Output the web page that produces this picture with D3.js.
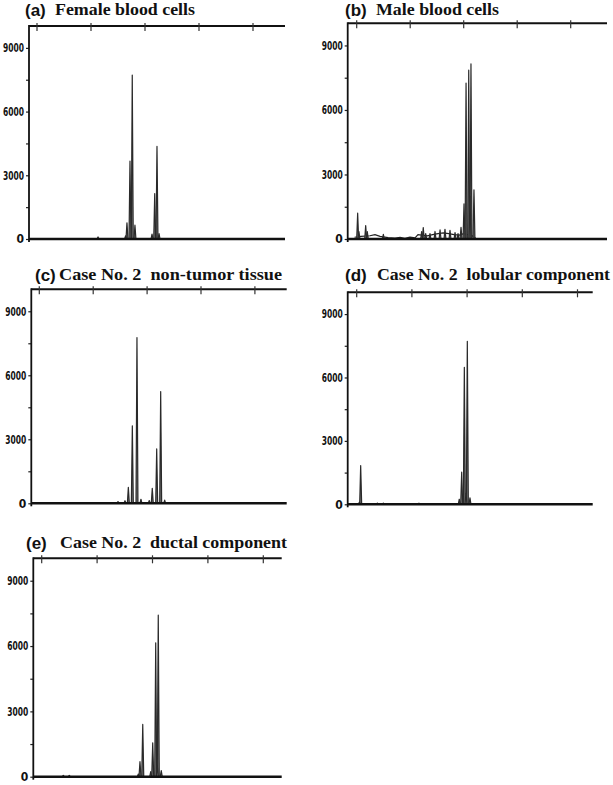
<!DOCTYPE html>
<html>
<head>
<meta charset="utf-8">
<script src="https://cdn.jsdelivr.net/npm/d3@7"></script>
<style>
  body { margin: 0; background: #fff; }
</style>
</head>
<body>
<div id="visContainer"></div>
<script>
// panel letters and titles
const letters = ["(a)", "(b)", "(c)", "(d)", "(e)"];
const titles = [
  "Female blood cells",
  "Male blood cells",
  "Case No. 2  non-tumor tissue",
  "Case No. 2  lobular component",
  "Case No. 2  ductal component"
];

// size ticks (top axis) and RFU ticks (left axis)
const sizeTicks = [100, 150, 200, 250, 300];
const rfuTicks = [0, 1500, 3000, 4500, 6000, 7500, 9000];
const rfuLabels = [0, 3000, 6000, 9000];

// peaks: [size, height]
const peaksA = [[156.5, 100], [182.0, 150], [183.3, 760], [186.1, 3670], [188.2, 7720], [190.7, 650],
  [206.5, 230], [209.0, 2140], [211.1, 4360], [213.0, 250]];
const peaksB = [[100.9, 1200], [102.1, 340], [108.4, 620], [109.9, 340], [124.9, 220],
  [160.7, 340], [162.2, 530], [164.5, 250], [168.5, 250], [173.2, 350], [177.9, 420],
  [182.5, 450], [187.2, 400], [191.9, 300], [194.7, 250], [197.5, 540],
  [200.3, 1640], [202.2, 7250], [204.7, 7850], [205.9, 1980], [206.8, 8140], [209.6, 2290]];
const noiseB = [[98, 80], [104, 120], [112.4, 150], [117.1, 200], [121.8, 120], [129.3, 60],
  [135.8, 40], [140.5, 80], [145.1, 30], [149.8, 90], [154.5, 50], [157.3, 200],
  [166, 150], [171, 200], [176, 250], [181, 280], [186, 250], [191, 200], [196, 180],
  [200, 250], [208, 150], [212, 0]];
const peaksC = [[173.0, 80], [179.5, 120], [182.6, 750], [186.3, 3630], [190.6, 7770], [194.3, 190],
  [202.0, 130], [204.8, 700], [208.9, 2550], [212.6, 5240], [216.3, 150]];
const peaksD = [[102.4, 100], [103.6, 1830], [118.7, 60], [124.1, 60], [156.4, 50],
  [192.9, 240], [195.1, 1520], [197.5, 6480], [199.0, 520], [200.2, 7710], [202.6, 300]];
const peaksE = [[119.5, 60], [124.9, 60], [187.2, 120], [188.7, 690], [191.2, 2400],
  [198.4, 230], [200.2, 1560], [202.9, 6150], [204.3, 540], [205.2, 7420], [207.9, 280]];

const allPeaks = [peaksA, peaksB, peaksC, peaksD, peaksE];
const allNoise = [[], noiseB, [], [], []];

// panel frames in pixels
const frames = [
  {left: 29, right: 285, top: 26, bottom: 239, tick0: 37, step: 54, tx: 25, tx2: 55, tw: 140, ty: 15},
  {left: 347.7, right: 607, top: 23.3, bottom: 239, tick0: 356.7, step: 53.5, tx: 345, tx2: 376, tw: 123, ty: 15},
  {left: 31.3, right: 286.7, top: 289.3, bottom: 503.3, tick0: 39.3, step: 53.9, tx: 35, tx2: 59, tw: 223, ty: 280},
  {left: 347.7, right: 592.7, top: 292.3, bottom: 504.3, tick0: 356.7, step: 55.2, tx: 345, tx2: 377, tw: 233, ty: 280},
  {left: 33.3, right: 281.7, top: 558.3, bottom: 776.7, tick0: 41.7, step: 55.4, tx: 26, tx2: 60, tw: 227, ty: 548}
];

const width = 613;
const height = 785;
const yTop = 10030;

const svg = d3.create("svg")
  .attr("width", width)
  .attr("height", height)
  .style("background", "#fff");
document.querySelector("#visContainer").append(svg.node());

frames.forEach((f, i) => {
  const lo = 100 - (f.tick0 - f.left) / f.step * 50;
  const hi = 100 + (f.right - f.tick0) / f.step * 50;
  const x = d3.scaleLinear().domain([lo, hi]).range([f.left, f.right]);
  const y = d3.scaleLinear().domain([0, yTop]).range([f.bottom, f.top]);
  const g = svg.append("g");

  // titles
  g.append("text")
    .attr("x", f.tx).attr("y", f.ty + 1)
    .attr("font-family", "Liberation Sans, Arial, sans-serif")
    .attr("font-weight", "bold")
    .attr("font-size", 17)
    .attr("fill", "#111")
    .text(letters[i]);
  g.append("text")
    .attr("x", f.tx2).attr("y", f.ty)
    .attr("font-family", "Liberation Serif, Times New Roman, serif")
    .attr("font-weight", "bold")
    .attr("font-size", 16)
    .attr("fill", "#111")
    .attr("textLength", f.tw)
    .attr("lengthAdjust", "spacingAndGlyphs")
    .style("white-space", "pre")
    .text(titles[i]);

  // noise trace
  if (allNoise[i].length) {
    g.append("path")
      .datum(allNoise[i])
      .attr("fill", "none")
      .attr("stroke", "#222")
      .attr("stroke-width", 1.2)
      .attr("d", d3.line().x(d => x(d[0])).y(d => y(d[1])));
  }

  // peaks
  const w = 0.9;
  g.selectAll("path.peak")
    .data(allPeaks[i].slice().sort((a, b) => b[1] - a[1]))
    .join("path")
    .attr("class", "peak")
    .attr("fill", "#777")
    .attr("stroke", "#2a2a2a")
    .attr("stroke-width", 1.2)
    .attr("stroke-linejoin", "round")
    .attr("d", d => `M${x(d[0] - w)},${y(0)}L${x(d[0])},${y(d[1])}L${x(d[0] + w)},${y(0)}`);

  // baseline
  g.append("line")
    .attr("x1", f.left).attr("x2", f.right)
    .attr("y1", y(0)).attr("y2", y(0))
    .attr("stroke", "#111").attr("stroke-width", 2.6);

  // top axis line with size ticks
  g.append("line")
    .attr("x1", f.left).attr("x2", f.right)
    .attr("y1", f.top).attr("y2", f.top)
    .attr("stroke", "#111").attr("stroke-width", 2);
  g.selectAll("line.sz")
    .data(sizeTicks)
    .join("line")
    .attr("class", "sz")
    .attr("x1", d => x(d)).attr("x2", d => x(d))
    .attr("y1", f.top - 3).attr("y2", f.top + 5)
    .attr("stroke", "#333").attr("stroke-width", 1.2);

  // left axis
  const yAxis = d3.axisLeft(y)
    .tickValues(rfuTicks)
    .tickSize(3)
    .tickPadding(2)
    .tickFormat(d => rfuLabels.includes(d) ? d : "");
  const ax = g.append("g")
    .attr("transform", `translate(${f.left},0)`)
    .call(yAxis);
  ax.select(".domain").remove();
  ax.selectAll(".tick line").attr("stroke", "#222").attr("stroke-width", 1.2);
  ax.selectAll(".tick text")
    .attr("font-family", "Liberation Sans Narrow, DejaVu Sans Condensed, Arial Narrow, sans-serif")
    .attr("font-size", 12)
    .attr("font-weight", "bold")
    .attr("fill", "#111")
    .each(function(d) {
      if (d > 0) d3.select(this).attr("textLength", 21).attr("lengthAdjust", "spacingAndGlyphs");
    });
  g.append("line")
    .attr("x1", f.left).attr("x2", f.left)
    .attr("y1", f.top - 1).attr("y2", f.bottom + 3)
    .attr("stroke", "#111").attr("stroke-width", 1.8);
});
</script>
</body>
</html>
